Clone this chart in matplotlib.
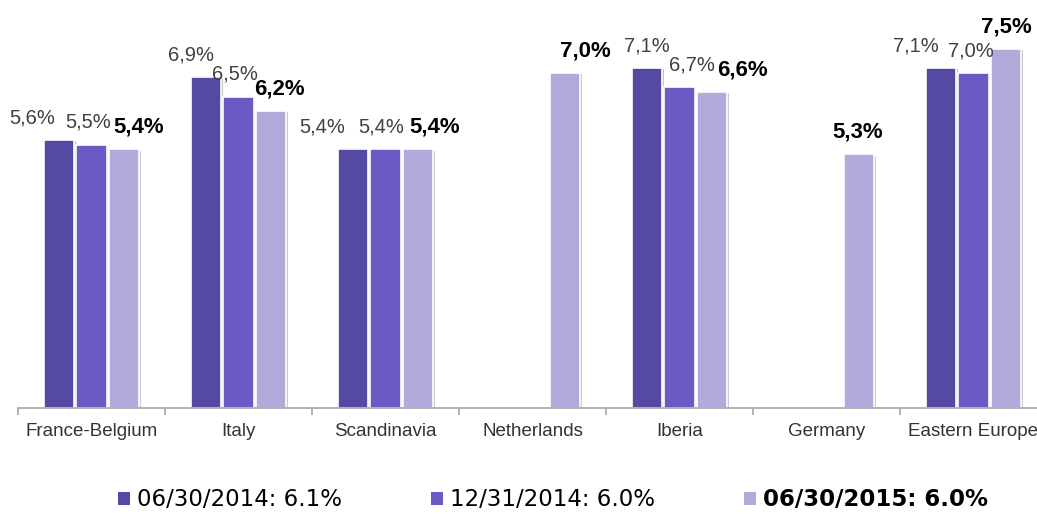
import matplotlib.pyplot as plt
import matplotlib.patheffects as pe
from matplotlib.patches import Patch
import numpy as np

plt.rcParams['font.family'] = ['Liberation Sans', 'DejaVu Sans']

# data
regions = ['France-Belgium', 'Italy', 'Scandinavia', 'Netherlands',
           'Iberia', 'Germany', 'Eastern Europe']
series_names = ['06/30/2014: 6.1%', '12/31/2014: 6.0%', '06/30/2015: 6.0%']
jun_2014 = [5.6, 6.9, 5.4, np.nan, 7.1, np.nan, 7.1]
dec_2014 = [5.5, 6.5, 5.4, np.nan, 6.7, np.nan, 7.0]
jun_2015 = [5.4, 6.2, 5.4, 7.0, 6.6, 5.3, 7.5]

colors = ['#544aa3', '#6a5ac4', '#b0abdb']
# hand-placed label nudges (pixels) like on the original slide
label_dx = [[-27, -15, -31, 0, 0, 0, -25],
            [-3, -4, -4, 0, 12, 0, -3],
            [15, 8, 17, 20, 30, -1, 0]]

fig = plt.figure(figsize=(10.37, 5.15), dpi=100)
ax = fig.add_axes([18 / 1037, 107 / 515, 1 - 18 / 1037, 408 / 515])

x = np.arange(len(regions))
step, width = 0.221, 0.21
for i, (vals, c) in enumerate(zip([jun_2014, dec_2014, jun_2015], colors)):
    vals = np.array(vals, dtype=float)
    ok = np.isfinite(vals)
    xs = x[ok] + (i - 1) * step
    bars = ax.bar(xs, vals[ok], width, color=c, edgecolor='white',
                  linewidth=1.2, zorder=2)
    for b in bars:
        b.set_path_effects([pe.SimplePatchShadow(offset=(1, -1), alpha=0.25),
                            pe.Normal()])
    bold = i == 2
    for xi, v, dx in zip(xs, vals[ok], np.array(label_dx[i])[ok]):
        ax.annotate(f'{v:.1f}%'.replace('.', ','), (xi, v),
                    xytext=(dx * 0.72, 12), textcoords='offset points',
                    ha='center', va='baseline',
                    fontsize=16 if bold else 14.5,
                    fontweight='bold' if bold else 'normal',
                    color='black' if bold else '#404040')

for s in ['top', 'left', 'right']:
    ax.spines[s].set_visible(False)
ax.spines['bottom'].set_color('#a6a6a6')
ax.spines['bottom'].set_linewidth(1.2)
ax.set_yticks([])
ax.set_xticks(np.arange(-0.5, 7.0, 1.0))
ax.set_xticks(x, minor=True)
ax.set_xticklabels(regions, minor=True)
ax.tick_params(axis='x', which='major', length=5, width=1.2, color='#a6a6a6',
               labelbottom=False)
ax.tick_params(axis='x', which='minor', length=0, pad=11, labelsize=13.5,
               labelcolor='#333333')
ax.set_xlim(-0.5, -0.5 + 1019 / 147)
ax.set_ylim(0, 408 / 47.9)

handles = [Patch(facecolor=c) for c in colors]
leg = fig.legend(handles, series_names, loc='center',
                 bbox_to_anchor=(553 / 1037, 15 / 515), ncol=3, frameon=False,
                 prop={'family': 'DejaVu Sans', 'size': 16.5},
                 handlelength=0.52, handleheight=0.52, handletextpad=0.3,
                 columnspacing=3.9)
leg.get_texts()[2].set_fontweight('bold')

fig.savefig('out.png', dpi=100)
